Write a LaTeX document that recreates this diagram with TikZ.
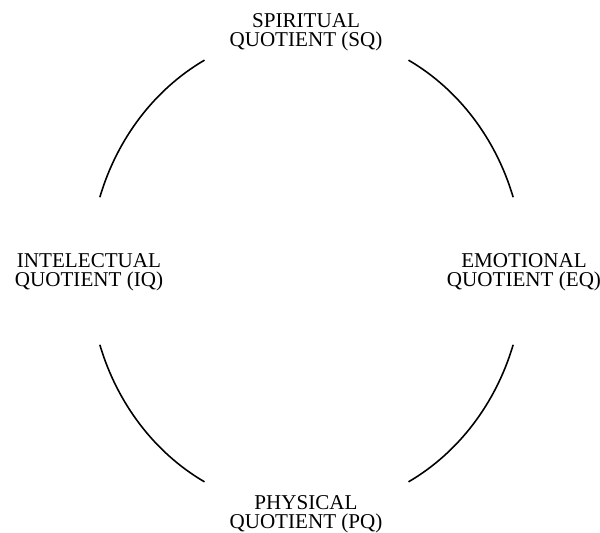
\documentclass[tikz,border=0pt]{standalone}
\usepackage{fontspec}
\setmainfont{Liberation Serif}
\usetikzlibrary{positioning}

\begin{document}
\begin{tikzpicture}[
      lab/.style={align=center,inner sep=0pt,anchor=north,font=\fontsize{12}{10.8}\selectfont},
      ring/.style={line width=0.9pt}
    ]
    \useasboundingbox (0,0) rectangle (12,10.64);

    % centre of the ring
    \coordinate (c) at (6.13,5.22);

    % labels
    \node[lab] (sq) at (6.12,10.374) {SPIRITUAL\\QUOTIENT (SQ)};
    \node[lab] (iq) at (1.78,5.574) {INTELECTUAL\\QUOTIENT (IQ)};
    \node[lab] (eq) at (10.48,5.574) {EMOTIONAL\\QUOTIENT (EQ)};
    \node[lab] (pq) at (6.12,0.73) {PHYSICAL\\QUOTIENT (PQ)};

    % arcs between the labels
    \foreach \s in {18,118,198,298}
      \draw[ring] ([shift={(\s:4.346 and 4.776)}]c)
        arc[start angle=\s, delta angle=44, x radius=4.346, y radius=4.776];

\end{tikzpicture}
\end{document}
